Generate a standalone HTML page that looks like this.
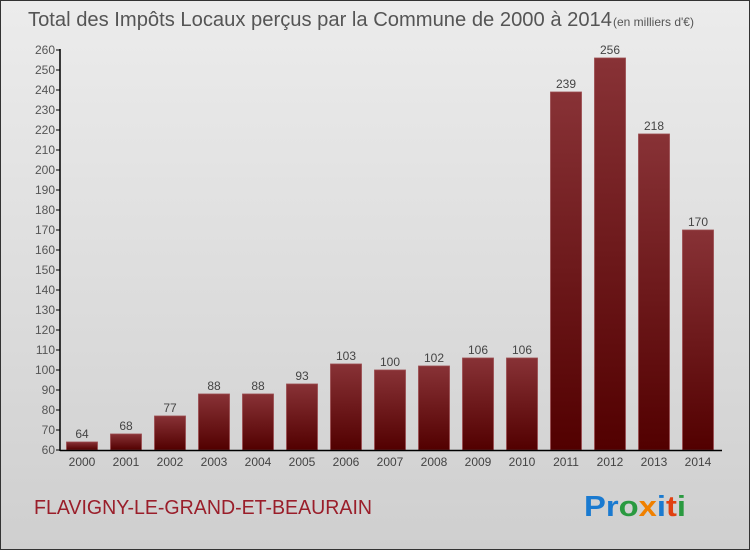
<!DOCTYPE html>
<html><head><meta charset="utf-8"><style>
body{margin:0;width:750px;height:550px;overflow:hidden}
svg{display:block;font-family:"Liberation Sans",sans-serif}
</style></head><body>
<svg width="750" height="550" viewBox="0 0 750 550">
<defs>
<linearGradient id="bg" x1="0" y1="0" x2="0" y2="1"><stop offset="0" stop-color="#ececec"/><stop offset="1" stop-color="#cfcfcf"/></linearGradient>
<linearGradient id="bar" x1="0" y1="0" x2="0" y2="1"><stop offset="0" stop-color="#883236"/><stop offset="1" stop-color="#520000"/></linearGradient>
</defs>
<rect x="0.5" y="0.5" width="749" height="549" fill="url(#bg)" stroke="#333"/>
<text x="28" y="26" font-size="20" fill="#555" textLength="584" lengthAdjust="spacingAndGlyphs">Total des Impôts Locaux perçus par la Commune de 2000 à 2014</text>
<text x="613" y="26" font-size="12" fill="#555">(en milliers d'€)</text>
<g id="plot"></g>
<text x="34" y="514" font-size="20" fill="#9a1e2a" textLength="338" lengthAdjust="spacingAndGlyphs">FLAVIGNY-LE-GRAND-ET-BEAURAIN</text>
<text x="584" y="516" font-size="29" font-weight="bold" textLength="102" lengthAdjust="spacingAndGlyphs"><tspan fill="#1a7ad0">Pr</tspan><tspan fill="#2a9a40">o</tspan><tspan fill="#f08000">x</tspan><tspan fill="#1a7ad0">i</tspan><tspan fill="#e04010">t</tspan><tspan fill="#2a9a40">i</tspan></text>
</svg>
<script>
const years=["2000","2001","2002","2003","2004","2005","2006","2007","2008","2009","2010","2011","2012","2013","2014"];
const values=[64,68,77,88,88,93,103,100,102,106,106,239,256,218,170];
const yTicks=[60,70,80,90,100,110,120,130,140,150,160,170,180,190,200,210,220,230,240,250,260];
const NS="http://www.w3.org/2000/svg";
const g=document.getElementById('plot');
const y=v=>450-(v-60)*2;
const x=i=>82+i*44;
function el(t,a,txt){const e=document.createElementNS(NS,t);for(const k in a)e.setAttribute(k,a[k]);if(txt!=null)e.textContent=txt;g.appendChild(e);return e;}
yTicks.forEach(v=>{
 const t=el('line',{x1:56,x2:60,y1:y(v),y2:y(v),stroke:'#000'});
 
 
 const l=el('text',{x:55,y:y(v)+4,'text-anchor':'end','font-size':12,fill:'#555'},v);
 
 
});
values.forEach((v,i)=>{
 const b=el('rect',{x:x(i)-15.5,y:y(v),width:31,height:450-y(v),fill:'url(#bar)',stroke:'#9a4a4e','stroke-width':0.8});
 
 
 const l=el('text',{x:x(i),y:y(v)-4,'text-anchor':'middle','font-size':12,fill:'#444'},v);
 
 
 const xl=el('text',{x:x(i),y:466,'text-anchor':'middle','font-size':12,fill:'#444'},years[i]);
 
 
});
const ya=el('line',{x1:60,x2:60,y1:y(260)-1,y2:451,stroke:'#000','stroke-width':1.5});


const xa=el('line',{x1:60,x2:722,y1:450.5,y2:450.5,stroke:'#000','stroke-width':1.5});


</script>
</body></html>
